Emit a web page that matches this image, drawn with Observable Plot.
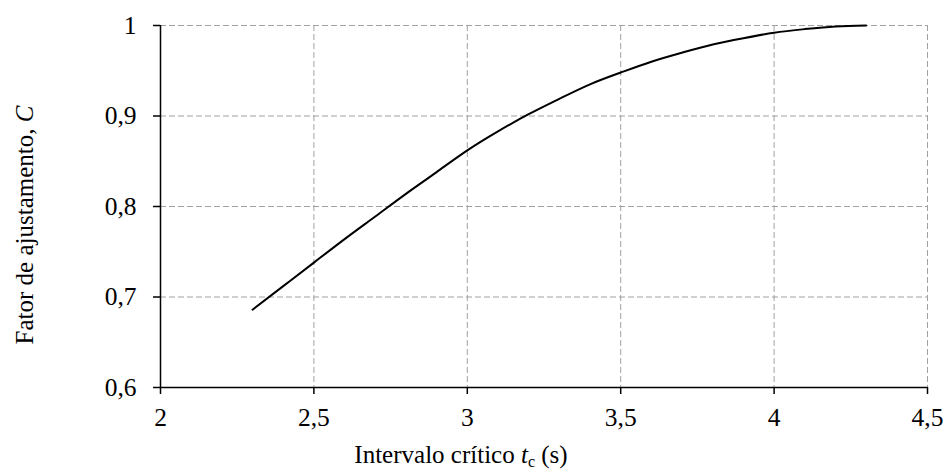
<!DOCTYPE html>
<html>
<head>
<meta charset="utf-8">
<script src="https://cdn.jsdelivr.net/npm/d3@7"></script>
<script src="https://cdn.jsdelivr.net/npm/@observablehq/plot@0.6"></script>
<style>
  html, body { margin: 0; padding: 0; background: #fff; }
  #chart svg { display: block; }
  #chart text { font-family: "Liberation Serif", "Times New Roman", serif; }
</style>
</head>
<body>
<div id="chart"></div>
<script>
// Critical interval t_c (s) and the corresponding adjustment factor C
const tc = [2.3, 2.4, 2.5, 2.6, 2.7, 2.8, 2.9, 3.0, 3.1, 3.2, 3.3, 3.4, 3.5, 3.6, 3.7, 3.8, 3.9, 4.0, 4.1, 4.2, 4.3];
const factorC = [0.686, 0.712, 0.738, 0.764, 0.789, 0.814, 0.838, 0.862, 0.883, 0.902, 0.919, 0.935, 0.948, 0.960, 0.970, 0.979, 0.986, 0.992, 0.996, 0.999, 1.000];

// Axis ticks
const xTicks = [2, 2.5, 3, 3.5, 4, 4.5];
const yTicks = [0.6, 0.7, 0.8, 0.9, 1];

const data = tc.map((t, i) => ({t, c: factorC[i]}));
const fmt = d => String(d).replace(".", ",");
const gridStyle = {stroke: "#a0a0a0", strokeOpacity: 1, strokeWidth: 1, strokeDasharray: "6,3"};
const font = "Liberation Serif, Times New Roman, serif";

const plot = Plot.plot({
  width: 944,
  height: 470,
  marginLeft: 160,
  marginRight: 17,
  marginTop: 25,
  marginBottom: 83,
  style: {fontFamily: font, fontSize: "25.5px", color: "#000", background: "#fff"},
  x: {domain: [2, 4.5]},
  y: {domain: [0.6, 1]},
  marks: [
    Plot.gridX(xTicks.filter(d => d > 2), gridStyle),
    Plot.gridY(yTicks.filter(d => d > 0.6), gridStyle),
    Plot.ruleX([2], {stroke: "#000", strokeWidth: 1.5}),
    Plot.ruleY([0.6], {stroke: "#000", strokeWidth: 1.5}),
    Plot.axisX({ticks: xTicks, tickFormat: fmt, tickSize: 7, tickPadding: 13, strokeWidth: 1.5, label: null, fill: "#000", fontSize: 25.5}),
    Plot.axisY({ticks: yTicks, tickFormat: fmt, tickSize: 7, tickPadding: 17, strokeWidth: 1.5, label: null, fill: "#000", fontSize: 25.5}),
    Plot.line(data, {x: "t", y: "c", curve: "natural", stroke: "#000", strokeWidth: 2})
  ]
});

// Axis titles with italic symbols and subscript
const svg = d3.select(plot);

const xt = svg.append("text")
  .attr("x", 461).attr("y", 463)
  .attr("text-anchor", "middle")
  .attr("font-size", 25).attr("fill", "#000");
xt.append("tspan").text("Intervalo crítico ");
xt.append("tspan").attr("font-style", "italic").text("t");
xt.append("tspan").attr("font-size", 16).attr("dy", 4).text("c");
xt.append("tspan").attr("dy", -4).text(" (s)");

const yt = svg.append("text")
  .attr("transform", "translate(33,225) rotate(-90)")
  .attr("text-anchor", "middle")
  .attr("font-size", 25).attr("fill", "#000");
yt.append("tspan").text("Fator de ajustamento, ");
yt.append("tspan").attr("font-style", "italic").text("C");

document.getElementById("chart").appendChild(plot);
</script>
</body>
</html>
